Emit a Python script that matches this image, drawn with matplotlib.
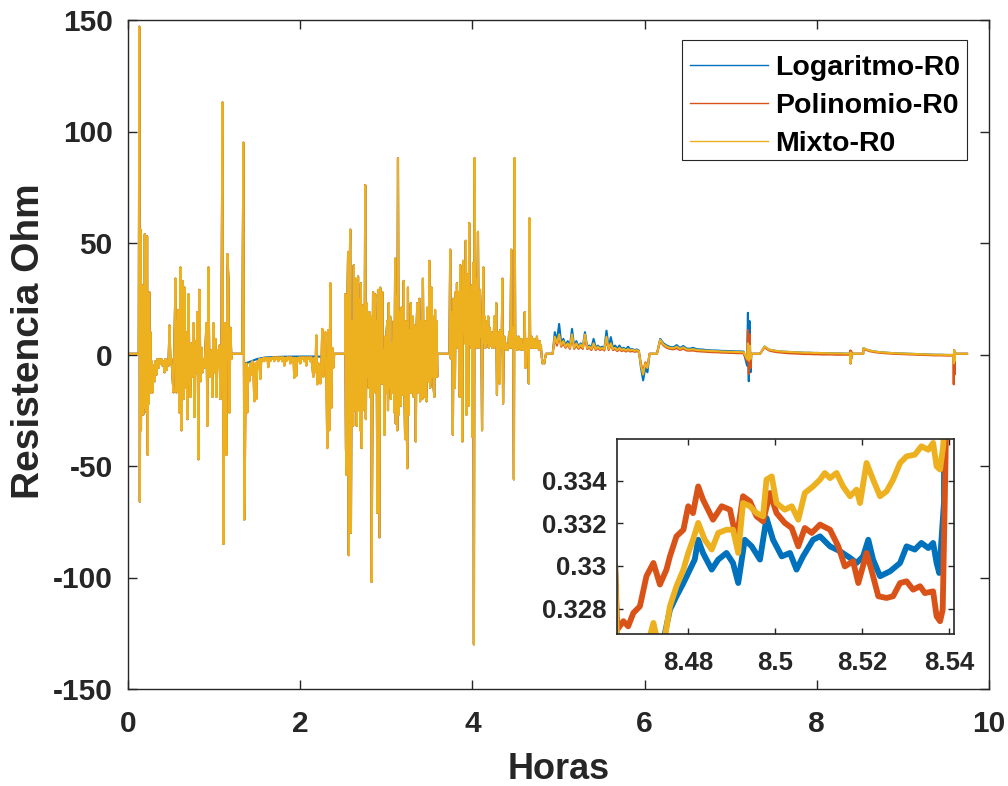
import numpy as np
import matplotlib
matplotlib.use("Agg")
import matplotlib.pyplot as plt
from matplotlib.patches import Rectangle

plt.rcParams['font.family'] = ['Liberation Sans', 'DejaVu Sans']
plt.rcParams['font.weight'] = 'bold'
plt.rcParams['axes.unicode_minus'] = False

series_names = ['Logaritmo-R0', 'Polinomio-R0', 'Mixto-R0']
series_colors = ['#0072BD', '#D95319', '#EDB120']

rest_level = 0.33

# ---- shared high-activity stretches (start/end hour, sampled values in Ohm) ----
burst_a_span = (0.125, 0.273)
burst_a = [0.33, 147, -66, 56, -34, 27, -21, 31, -27, 29, -24, 54, -20, 25, -26, 53,
           -45, 22, -22, 28, -17, 10, -17, -3]

burst_b_span = (0.273, 1.201)
burst_b = [-3, -17, -5, -12, -3, -9, -2, -6, -2, -4,
           -2, -5, -3, -8, -2, -7, -3, -5, 13, -4,
           -2, -10, -17, 6, 34, -17, 10, 20, -26, 39,
           -34, 33, -20, 30, -15, 10, -29, 27, -8, -19,
           5, -10, 14, -28, 6, -8, 19, -47, 29, -12,
           3, -8, -2, -6, 3, 14, -32, 39, -10, -5,
           2, -19, 14, -8, 7, -19, 2, -6, 4, -20,
           0, 113, -85, -4, 14, -45, 45, 34, -26, 12,
           -2]

burst_c_span = (1.328, 2.396)
burst_c = [0.33, 95, -74, -32, -4, -26, -6, -12, -4, -9,
           -3, -8, -21, -4, -20, -3, -6, -2, -11, -2,
           -3, -1.5, -3, -1.5, -2.5, -1.5, -5.7, -1.5, -3, -1.5,
           -2, -1.2, -3, -1.2, -2, -1.2, -3, -1.2, -2, -1.2,
           -3, -1.2, -5, -1.5, -3, -1.2, -2, -1.2, -4, -1.2,
           -3, -1.5, -10.5, -1.5, -9.6, -1.5, -3, -1.2, -4, -1.2,
           -2, -1.2, -3, -1.2, -5, -1.2, -2, -1.2, -3, -1.2,
           -6, -10, -1.5, -8, 8.6, -13.4, -4, -6, -13, -3,
           11.5, -10, 4, 10, -12, -42, 11, -34, 32, -24,
           3, -6, 0.33]
# Logaritmo sits slightly above the others in this stretch
log_c_hours = [1.328, 1.3396, 1.3512, 1.3530, 1.40, 1.50, 1.60, 1.80, 2.00, 2.15, 2.30, 2.396]
log_c_values = [0.33, 95, -74, -4.0, -3.5, -2.0, -1.3, -1.0, -0.9, -0.9, -1.0, 0.33]

burst_d_span = (2.523, 3.591)
burst_d = [27, -42, -54, 20, 46, -90, 30, 56, -80, 10, 15, -32, 40, -25, 20, 34, -32,
           10, 35, -25, 25, -34, 32, -42, 22, -23, 19, -25, 76, -29, 23, -10, 17, -15,
           19, -19, 17, -102, -38, 28, -17, 20, 27, -17, 15, -71, 29, -30, -82, 30, 15,
           -13, 28, -13, 2, -36, 8, -17, 10, 15, -25, 23, -15, 17, -20, 5, -17, -2, 15,
           -26, 43, -31, 26, -34, 88, -27, 19, -15, -23, 21, -10, -18, 33, -15, -38, 15,
           -20, -51, 30, -27, 11, -17, 23, -17, 10, 17, -19, 8, 13, -39, 10, 23, -17, 10,
           25, -21, 8, 15, -20, 34, -12, -19, 15, -15, -21, 21, -8, -12, 42, -15, -13,
           30, -10, 17, -15, -19, 20, -10, 15, -10]

burst_e_span = (3.734, 4.797)
burst_e = [2, 47, -2, 10, 19, -36, 25, 5, -15, 28, 8, 32, 3, 28, 5, -19, 40, 8, 15,
           -39, 42, 10, 25, 5, 51, -27, 36, 10, -23, 59, 5, 15, 3, 31, -37, 41, -130,
           88, 5, 34, 3, 20, 55, 3, 15, 29, 8, 12, -34, 20, 39, 5, 17, 3, 15, 5, 10, 17,
           3, 12, 4, 8, 10, 3, 6, 3, 17, 4, 10, 23, -18, 5, 10, 3, -13, 11, 3, 5, 34,
           -22, 4, 8, 3, 5, 2, 4, 2, 5, 10, 3, 4, 47, 3, 12, 3, -56, 88, 3, 6, 8, 2, 6,
           8, 3, 5, 2, 7, 3, 4, 2, 4, 19, -6, 3, 4, 7, 3, -13, 61, 3, 5, 8, 3, 5, 3, 7,
           3, 5, 3, 8, 3, 5, 2, 6, 3, 4]

dip_hours = [4.797, 4.805, 4.815, 4.825, 4.835, 4.845, 4.855]
dip_values = [3, -1, -4, -3.5, -4, -1.5, 0.33]

# ---- quieter stretches where the three fits separate ----
decay_g_span = (4.932, 6.058)
log_g = [0.33, 10, 6, 13.7, 5, 7, 4, 6, 3.5, 11.5, 3.5, 6, 3.5, 5, 3.5, 10, 3.5, 4, 3, 7,
         3, 4, 3, 3.5, 2.5, 10.7, 3, 7.8, 3, 4, 2.5, 4, 2.5, 3, 2.2, 3.5, 2.2, 2.5, 1.9,
         2.3, 1.8, -6, -11.6, -6, -8, 0.33]
pol_g = [0.33, 7, 4, 8, 3.5, 5, 3, 4.5, 2.5, 8, 2.5, 4, 2.5, 3.5, 2.5, 8, 2.5, 3, 2, 4.5,
         2, 3, 2, 2.5, 1.8, 7, 2, 4.5, 2, 2.5, 1.5, 2.5, 1.5, 2, 1.3, 2, 1.3, 1.6, 1.2,
         1.4, 1.2, -4, -8, -3.5, -5, 0.33]
mix_g = [0.33, 8, 5, 9, 4, 6, 3.5, 5, 3, 9, 3, 5, 3, 4.5, 3, 9, 3, 3.5, 2.5, 5,
         2.5, 3.5, 2.5, 3, 2.2, 8, 2.5, 5, 2.5, 3, 2, 3, 2, 2.5, 1.8, 2.5, 1.8, 2.2, 1.6,
         2.0, 1.5, -5, -9, -4, -6, 0.33]

decay_i_span = (6.143, 7.137)
log_i = [0.33, 7.0, 5.0, 4.0, 3.4, 3.2, 4.2, 2.9, 3.8, 2.7, 2.6, 3.0, 2.4, 2.3, 2.2, 2.0,
         1.9, 1.8, 1.8, 1.7, 1.6, 1.6, 1.5, 1.5, 1.4, 1.4, 1.3]
pol_i = [0.33, 6.0, 4.0, 3.0, 2.5, 2.3, 2.8, 2.0, 2.6, 1.8, 1.7, 1.8, 1.5, 1.4, 1.3, 1.2,
         1.1, 1.0, 1.0, 0.9, 0.8, 0.8, 0.7, 0.7, 0.6, 0.6, 0.5]
mix_i = [0.33, 6.6, 4.5, 3.5, 3.0, 2.8, 3.5, 2.5, 3.2, 2.3, 2.2, 2.4, 2.0, 1.9, 1.8, 1.7,
         1.6, 1.5, 1.5, 1.4, 1.3, 1.3, 1.2, 1.2, 1.1, 1.1, 1.0]

spike_b_hours = [7.150, 7.190, 7.200, 7.210, 7.220, 7.230, 7.240]
log_spike_b = [1.3, -5, 18.7, -12, 15, -8, 0.33]
pol_spike_b = [0.5, -3, 11, -8.7, 9, -6, 0.33]
mix_spike_b = [1.0, -2, 5, -2.7, 4, -2, 0.33]

decay_j_span = (7.341, 8.38)
pol_j = [0.33, 3.2, 1.8, 1.3, 1.0, 0.8, 0.6, 0.5, 0.4, 0.3, 0.2, 0.2, 0.1, 0.1, 0.0, 0.0,
         0.0, -0.1, -0.1, -0.1, -0.1]
mix_j = [0.33, 3.6, 2.2, 1.8, 1.5, 1.3, 1.2, 1.1, 1.0, 0.9, 0.8, 0.8, 0.7, 0.7, 0.6, 0.6,
         0.5, 0.5, 0.5, 0.4, 0.4]

spike_c_hours = [8.385, 8.390, 8.395, 8.400, 8.405, 8.410]
pol_spike_c = [-0.1, 1.8, -4, 1.5, -1, 0.33]
mix_spike_c = [0.4, -4, 1, -2, 0.5, 0.33]

# ---- detail window shown in the inset ----
log_win_hours = [8.4637, 8.4708, 8.4720, 8.4731, 8.4746, 8.4758, 8.4773, 8.4789, 8.4804,
                 8.4815, 8.4823, 8.4834, 8.4854, 8.4869, 8.4888, 8.4903, 8.4915, 8.4930,
                 8.4946, 8.4965, 8.4980, 8.4995, 8.5015, 8.5034, 8.5049, 8.5064, 8.5087,
                 8.5103, 8.5126, 8.5149, 8.5172, 8.5187, 8.5202, 8.5214, 8.5225, 8.5241,
                 8.5264, 8.5287, 8.5302, 8.5321, 8.5336, 8.5352, 8.5363, 8.5371, 8.5377,
                 8.5388]
log_win = [0.3250, 0.3262, 0.3266, 0.3262, 0.3268, 0.32795, 0.32858, 0.32920, 0.32983,
           0.33030, 0.33123, 0.33061, 0.32983, 0.33030, 0.33061, 0.33014, 0.32920, 0.33123,
           0.33092, 0.33030, 0.33225, 0.33123, 0.33045, 0.33061, 0.32983, 0.33045, 0.33123,
           0.33139, 0.33092, 0.33069, 0.33038, 0.33014, 0.33045, 0.33123, 0.33030, 0.32952,
           0.32975, 0.33014, 0.33092, 0.33077, 0.33108, 0.33084, 0.33108, 0.33014, 0.32967,
           0.3330]

pol_win_hours = [8.4637, 8.4651, 8.4662, 8.4674, 8.4689, 8.4704, 8.4720, 8.4735, 8.4750,
                 8.4758, 8.4773, 8.4789, 8.4800, 8.4811, 8.4823, 8.4834, 8.4857, 8.4877,
                 8.4896, 8.4911, 8.4926, 8.4942, 8.4957, 8.4972, 8.4988, 8.5003, 8.5022,
                 8.5038, 8.5053, 8.5068, 8.5084, 8.5103, 8.5126, 8.5145, 8.5160, 8.5179,
                 8.5191, 8.5210, 8.5221, 8.5237, 8.5256, 8.5271, 8.5287, 8.5302, 8.5317,
                 8.5333, 8.5344, 8.5363, 8.5371, 8.5379, 8.5385, 8.5390, 8.5394]
pol_win = [0.32702, 0.32741, 0.32717, 0.32780, 0.32811, 0.32952, 0.33014, 0.32913, 0.32983,
           0.33045, 0.33139, 0.33170, 0.33280, 0.33248, 0.33373, 0.33311, 0.33217, 0.33280,
           0.33264, 0.33123, 0.33327, 0.33303, 0.33233, 0.33209, 0.33342, 0.33248, 0.33202,
           0.33178, 0.33092, 0.33178, 0.33155, 0.33194, 0.33170, 0.33092, 0.32998, 0.33022,
           0.32920, 0.33061, 0.32983, 0.32858, 0.32850, 0.32858, 0.32920, 0.32928, 0.32889,
           0.32905, 0.32873, 0.32881, 0.32764, 0.32741, 0.32795, 0.3333, 0.3380]

mix_win_hours = [8.4637, 8.4708, 8.4720, 8.4729, 8.4746, 8.4758, 8.4773, 8.4789, 8.4800,
                 8.4811, 8.4823, 8.4838, 8.4854, 8.4869, 8.4888, 8.4903, 8.4915, 8.4926,
                 8.4942, 8.4957, 8.4972, 8.4980, 8.4992, 8.5003, 8.5022, 8.5038, 8.5053,
                 8.5068, 8.5087, 8.5103, 8.5114, 8.5126, 8.5141, 8.5156, 8.5172, 8.5187,
                 8.5195, 8.5210, 8.5225, 8.5241, 8.5256, 8.5271, 8.5287, 8.5302, 8.5321,
                 8.5336, 8.5352, 8.5363, 8.5371, 8.5379, 8.5386, 8.5390]
mix_win = [0.3255, 0.3264, 0.32733, 0.3265, 0.3266, 0.32811, 0.32905, 0.32983, 0.33061,
           0.33123, 0.33202, 0.33123, 0.33077, 0.33155, 0.33170, 0.33170, 0.33061, 0.33295,
           0.33280, 0.33248, 0.33233, 0.33405, 0.33420, 0.33295, 0.33264, 0.33280, 0.33217,
           0.33342, 0.33373, 0.33405, 0.33436, 0.33412, 0.33436, 0.33373, 0.33327, 0.33358,
           0.33295, 0.33483, 0.33405, 0.33327, 0.33350, 0.33405, 0.33483, 0.33514, 0.33522,
           0.33561, 0.33545, 0.33577, 0.33467, 0.33452, 0.33561, 0.3370]

decay_k_span = (8.5411, 9.58)
pol_k = [2.5, 1.5, 1.0, 0.7, 0.5, 0.3, 0.2, 0.1, 0.0, -0.1, -0.2, -0.3, -0.4, -0.4, -0.5, -0.5]
mix_k = [2.8, 1.8, 1.3, 1.0, 0.8, 0.6, 0.5, 0.4, 0.3, 0.2, 0.1, 0.0, -0.1, -0.1, -0.2, -0.2]

spike_d_hours = [9.585, 9.590, 9.595, 9.600, 9.605, 9.610, 9.745]
pol_spike_d = [-0.5, -13.4, 2, -9, 1, 0.33, 0.33]
mix_spike_d = [-0.2, -4, 2, -3, 1, 0.33, 0.33]

inset_xticks = [8.48, 8.50, 8.52, 8.54]
inset_yticks = [0.328, 0.330, 0.332, 0.334]
main_xticks = [0, 2, 4, 6, 8, 10]
main_yticks = [-150, -100, -50, 0, 50, 100, 150]


def spread(span, values):
    return np.linspace(span[0], span[1], len(values)), np.asarray(values, dtype=float)


def pair(hours, values):
    return np.asarray(hours, dtype=float), np.asarray(values, dtype=float)


def rest(t0, t1):
    return np.array([t0, t1]), np.array([rest_level, rest_level])


def build(part_c, g, i, sb, j, sc, win, k, sd):
    pieces = [
        rest(0.0, burst_a_span[0]),
        spread(burst_a_span, burst_a),
        spread(burst_b_span, burst_b),
        rest(burst_b_span[1], burst_c_span[0]),
        part_c,
        rest(burst_c_span[1], burst_d_span[0]),
        spread(burst_d_span, burst_d),
        rest(burst_d_span[1], burst_e_span[0]),
        spread(burst_e_span, burst_e),
        pair(dip_hours, dip_values),
        rest(dip_hours[-1], decay_g_span[0]),
        spread(decay_g_span, g),
        rest(decay_g_span[1], decay_i_span[0]),
        spread(decay_i_span, i),
        pair(spike_b_hours, sb),
        rest(spike_b_hours[-1], decay_j_span[0]),
        spread(decay_j_span, j),
        pair(spike_c_hours, sc),
        rest(spike_c_hours[-1], win[0][0] - 0.0005),
        win,
        spread(decay_k_span, k),
        pair(spike_d_hours, sd),
    ]
    t = np.concatenate([p[0] for p in pieces])
    v = np.concatenate([p[1] for p in pieces])
    return t, v


log_series = build(pair(log_c_hours, log_c_values), log_g, log_i, log_spike_b, mix_j,
                   mix_spike_c, pair(log_win_hours, log_win), mix_k, mix_spike_d)
pol_series = build(spread(burst_c_span, burst_c), pol_g, pol_i, pol_spike_b, pol_j,
                   pol_spike_c, pair(pol_win_hours, pol_win), pol_k, pol_spike_d)
mix_series = build(spread(burst_c_span, burst_c), mix_g, mix_i, mix_spike_b, mix_j,
                   mix_spike_c, pair(mix_win_hours, mix_win), mix_k, mix_spike_d)
all_series = [log_series, pol_series, mix_series]

W, H = 1008, 786
fig = plt.figure(figsize=(W / 100, H / 100), dpi=100)
ax = fig.add_axes([128 / W, 1 - 689 / H, (989 - 128) / W, (689 - 20) / H])

for (t, v), name, col in zip(all_series, series_names, series_colors):
    ax.plot(t, v, color=col, lw=1.5, label=name)

ax.set_xlim(0, 10)
ax.set_ylim(-150, 150)
ax.set_xticks(main_xticks)
ax.set_yticks(main_yticks)
ax.tick_params(direction='in', length=6.5, width=1.0, top=True, right=True,
               labelsize=21.5, colors='#262626')
ax.tick_params(axis='x', pad=15)
ax.tick_params(axis='y', pad=11)
for sp in ax.spines.values():
    sp.set_color('#262626')
    sp.set_linewidth(1.0)
ax.set_xlabel('Horas', fontsize=26, fontweight='bold', color='#262626', labelpad=10)
ax.set_ylabel('Resistencia Ohm', fontsize=28, fontweight='bold', color='#262626')
ax.yaxis.set_label_coords(-0.0945, 0.52)

# legend box drawn separately so its padding can be uneven
ax.add_patch(Rectangle((0.6434, 0.7907), 0.3310, 0.1794, transform=ax.transAxes,
                       facecolor='white', edgecolor='#262626', lw=0.8, zorder=5))
leg = ax.legend(loc='upper left', bbox_to_anchor=(0.6527, 0.9476), borderaxespad=0,
                borderpad=0, fontsize=20.5, handlelength=2.75, handletextpad=0.25,
                labelspacing=0.42, frameon=False)
leg.set_zorder(6)
for line in leg.get_lines():
    line.set_linewidth(1.0)
for txt in leg.get_texts():
    txt.set_fontweight('bold')
    txt.set_color('black')

axi = fig.add_axes([617.3 / W, 1 - 634 / H, 336.7 / W, 194.7 / H])
for (t, v), col in zip(all_series, series_colors):
    axi.plot(t, v, color=col, lw=4.2, solid_joinstyle='round')
axi.set_xlim(8.4637, 8.5411)
axi.set_ylim(0.32681, 0.33594)
axi.set_xticks(inset_xticks)
axi.set_xticklabels(['%g' % x for x in inset_xticks])
axi.set_yticks(inset_yticks)
axi.set_yticklabels(['%g' % y for y in inset_yticks])
axi.tick_params(direction='in', length=4.5, width=1.0, top=True, right=True,
                labelsize=18.5, colors='#262626')
axi.tick_params(axis='x', pad=12)
axi.tick_params(axis='y', pad=8)
for sp in axi.spines.values():
    sp.set_color('#262626')
    sp.set_linewidth(1.2)

fig.savefig('out.png', dpi=100)
